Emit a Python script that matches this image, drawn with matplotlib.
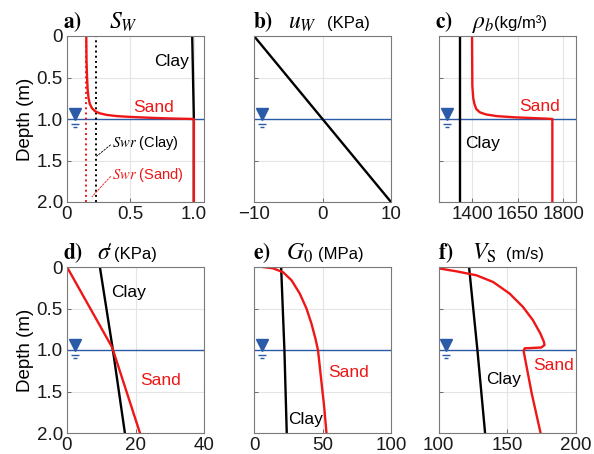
import matplotlib.pyplot as plt
from matplotlib.transforms import blended_transform_factory

plt.rcParams['font.family'] = ['Liberation Sans', 'DejaVu Sans']
plt.rcParams['mathtext.fontset'] = 'stix'

RED = '#ee1616'
BLUE = '#2a5aa8'

# ---- data (depth in m) ----
z3 = [0.0, 1.0, 2.0]

# a) degree of saturation
sw_clay = [0.987, 1.0, 1.0]
sw_sand_z = [0.0, 0.3, 0.5, 0.65, 0.75, 0.82, 0.87, 0.905, 0.93, 0.95, 0.965, 0.975, 0.985, 0.993, 1.0, 2.0]
sw_sand = [0.152, 0.154, 0.158, 0.163, 0.170, 0.180, 0.197, 0.22, 0.255, 0.31, 0.39, 0.50, 0.65, 0.80, 1.0, 1.0]
swr_clay = 0.227
swr_sand = 0.152

# b) pore water pressure
uw_z = [0.0, 2.0]
uw = [-10, 10]

# c) bulk density
rho_clay = [1458, 1458, 1458]
rho_sand_z = [0.0, 0.6, 0.75, 0.82, 0.88, 0.92, 0.945, 0.965, 0.98, 0.995, 1.0, 2.0]
rho_sand = [1499, 1500, 1503, 1507, 1513, 1525, 1545, 1580, 1640, 1740, 1764, 1764]
rho_ticks = [1500, 1650, 1800]
rho_ticklabels = ['1400', '1650', '1800']

# d) effective stress
sig_clay = [9.6, 13.4, 16.9]
sig_sand_z = [0.0, 0.97, 2.0]
sig_sand = [0.0, 13.2, 21.3]

# e) small-strain shear modulus
g0_clay = [19.8, 22.2, 23.9]
g0_sand_z = [0.0, 0.016, 0.064, 0.16, 0.32, 0.50, 0.68, 0.86, 1.0, 1.32, 1.68, 2.0]
g0_sand = [6.3, 14.0, 21.3, 27.4, 33.4, 38.3, 41.9, 44.8, 46.7, 48.8, 51.2, 52.9]

# f) shear wave velocity
vs_clay = [122.3, 128.4, 134.0]
vs_sand_z = [0.016, 0.052, 0.10, 0.18, 0.32, 0.48, 0.64, 0.80, 0.90, 0.94, 0.97, 0.98, 1.01, 1.52, 2.0]
vs_sand = [100, 113.1, 127.7, 139.8, 151.9, 161.6, 168.9, 174.3, 176.9, 177.4, 175.0, 162.9, 162.1, 168, 174.5]

W, H = 594, 454
fig = plt.figure(figsize=(W / 100, H / 100), dpi=100)


def make_ax(left, top, xlim, xticks, xlabels, ylab):
    ax = fig.add_axes([left / W, 1 - (top + 166) / H, 137 / W, 166 / H])
    ax.set_xlim(*xlim)
    ax.set_ylim(2, 0)
    ax.set_xticks(xticks)
    ax.set_xticklabels(xlabels)
    ax.set_yticks([0, 0.5, 1.0, 1.5, 2.0])
    if ylab:
        ax.set_yticklabels(['0', '0.5', '1.0', '1.5', '2.0'])
        ax.set_ylabel('Depth (m)', fontsize=13.5, labelpad=2)
    else:
        ax.set_yticklabels([])
    ax.tick_params(direction='in', length=3, width=0.6, color='#555555',
                   labelsize=13.5, labelcolor='#1a1a1a', pad=3)
    for s in ax.spines.values():
        s.set_color('#7a7a7a')
        s.set_linewidth(0.8)
    ax.grid(color='#e4e4e4', lw=0.8)
    ax.set_axisbelow(True)
    ax.axhline(1.0, color=BLUE, lw=1.0, zorder=1.5)
    tr = blended_transform_factory(ax.transAxes, ax.transData)
    ax.plot([0.058], [0.94], marker='v', ms=8, color=BLUE, transform=tr, clip_on=False, zorder=3)
    ax.plot([0.058], [1.055], marker='_', ms=6, mew=1.0, color=BLUE, transform=tr, zorder=3)
    ax.plot([0.058], [1.095], marker='_', ms=3.5, mew=1.0, color=BLUE, transform=tr, zorder=3)
    return ax


def title(ax, letter, lx, sym, sx, unit=None, ux=None):
    ax.text(lx, 1.046, r'$\mathbf{%s)}$' % letter, transform=ax.transAxes,
            fontsize=15.5, va='baseline', ha='left')
    ax.text(sx, 1.046, sym, transform=ax.transAxes, fontsize=17, va='baseline', ha='left')
    if unit:
        ax.text(ux, 1.046, unit, transform=ax.transAxes, fontsize=12, va='baseline', ha='left')


lw = 1.7

# a)
ax = make_ax(67, 36, (0, 1.08), [0, 0.5, 1.0], ['0', '0.5', '1.0'], True)
ax.axvline(swr_clay, color='black', ls=':', lw=1.4)
ax.axvline(swr_sand, color=RED, ls=':', lw=1.4)
ax.plot(sw_clay, z3, color='black', lw=lw)
ax.plot(sw_sand, sw_sand_z, color=RED, lw=lw)
ax.text(0.69, 0.31, 'Clay', fontsize=12.5, va='center')
ax.text(0.525, 0.86, 'Sand', fontsize=12.5, color=RED, va='center')
ax.text(0.354, 1.293, r'$Swr$ (Clay)', fontsize=10.5, va='center')
ax.text(0.354, 1.675, r'$Swr$ (Sand)', fontsize=10.5, color=RED, va='center')
ax.plot([0.345, 0.232], [1.31, 1.45], color='black', lw=0.6, ls=(0, (3, 1)))
ax.plot([0.345, 0.195], [1.69, 1.94], color=RED, lw=0.6, ls=(0, (3, 1)))
title(ax, 'a', -0.03, r'$S_W$', 0.31)

# b)
ax = make_ax(254, 36, (-10, 10), [-10, 0, 10], ['\u221210', '0', '10'], False)
ax.plot(uw, uw_z, color='black', lw=lw)
title(ax, 'b', -0.007, r'$u_W$', 0.248, '(KPa)', 0.53)

# c)
ax = make_ax(439, 36, (1390, 1842), rho_ticks, rho_ticklabels, False)
ax.plot(rho_clay, z3, color='black', lw=lw)
ax.plot(rho_sand, rho_sand_z, color=RED, lw=lw)
ax.text(1655, 0.85, 'Sand', fontsize=12.5, color=RED, va='center')
ax.text(1475, 1.30, 'Clay', fontsize=12.5, va='center')
title(ax, 'c', -0.029, r'$\rho_b$', 0.24, '(kg/m³)', 0.40)

# d)
ax = make_ax(67, 267, (0, 40), [0, 20, 40], ['0', '20', '40'], True)
ax.plot(sig_clay, z3, color='black', lw=lw)
ax.plot(sig_sand, sig_sand_z, color=RED, lw=lw)
ax.text(12.8, 0.307, 'Clay', fontsize=12.5, va='center')
ax.text(21.3, 1.37, 'Sand', fontsize=12.5, color=RED, va='center')
title(ax, 'd', -0.03, r"$\sigma\!\prime$", 0.22, '(KPa)', 0.34)

# e)
ax = make_ax(254, 267, (0, 100), [0, 50, 100], ['0', '50', '100'], False)
ax.plot(g0_clay, z3, color='black', lw=lw)
ax.plot(g0_sand, g0_sand_z, color=RED, lw=lw)
ax.text(54.3, 1.27, 'Sand', fontsize=12.5, color=RED, va='center')
ax.text(24.6, 1.84, 'Clay', fontsize=12.5, va='center')
title(ax, 'e', -0.007, r'$G_0$', 0.23, '(MPa)', 0.47)

# f)
ax = make_ax(438.5, 267, (100, 200), [100, 150, 200], ['100', '150', '200'], False)
ax.plot(vs_clay, z3, color='black', lw=lw)
ax.plot(vs_sand, vs_sand_z, color=RED, lw=lw)
ax.text(168.8, 1.19, 'Sand', fontsize=12.5, color=RED, va='center')
ax.text(134.5, 1.35, 'Clay', fontsize=12.5, va='center')
title(ax, 'f', 0.0, r'$V_\mathrm{S}$', 0.245, '(m/s)', 0.49)

fig.savefig('out.png', dpi=100)
